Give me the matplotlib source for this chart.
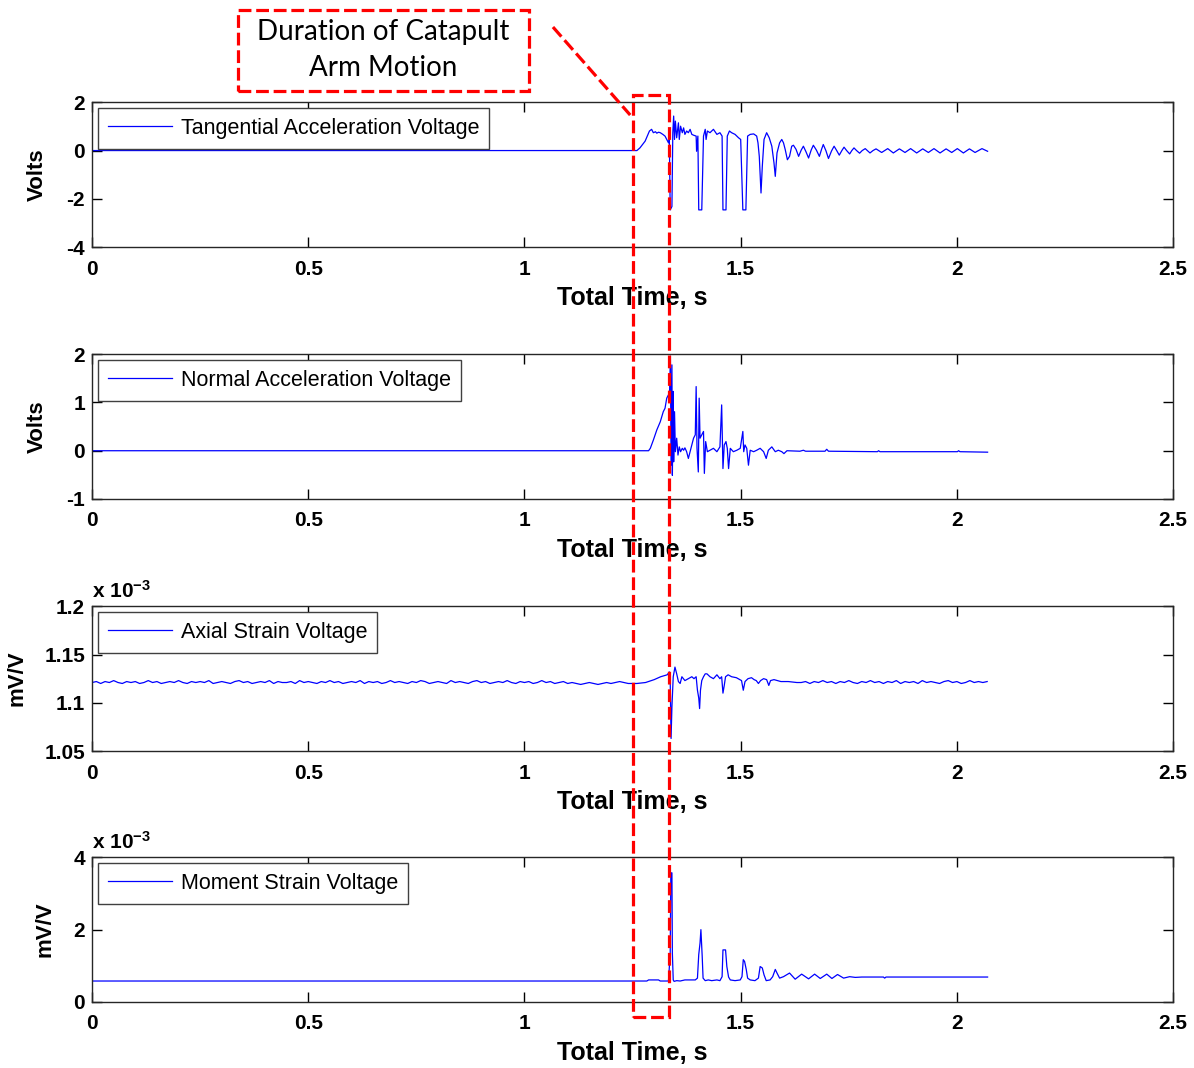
import matplotlib.pyplot as plt
import numpy as np
from matplotlib.patches import Rectangle
from matplotlib.lines import Line2D

plt.rcParams['font.family'] = ['Liberation Sans', 'DejaVu Sans']
plt.rcParams['mathtext.default'] = 'regular'

# ---- data (time in s) ----
# Tangential acceleration voltage, Volts
tangential = [
    (0.000, 0.00), (1.260, 0.00), (1.267, 0.11), (1.279, 0.39), (1.289, 0.81), (1.294, 0.88),
    (1.298, 0.74), (1.303, 0.78), (1.306, 0.72), (1.310, 0.76), (1.314, 0.74), (1.320, 0.67),
    (1.325, 0.60), (1.329, 0.46), (1.333, 0.32), (1.335, 0.46), (1.337, -2.46), (1.341, -2.32),
    (1.343, 0.74), (1.345, 1.43), (1.347, 0.46), (1.349, 1.22), (1.352, 0.53), (1.356, 1.15),
    (1.358, 0.46), (1.361, 1.01), (1.365, 0.74), (1.368, 0.94), (1.371, 0.67), (1.375, 0.81),
    (1.379, 0.74), (1.383, 0.88), (1.387, 0.67), (1.392, 0.63), (1.397, 0.60), (1.398, -0.03),
    (1.401, 0.60), (1.403, -2.46), (1.410, -2.46), (1.414, 0.60), (1.418, 0.88), (1.420, 0.46),
    (1.423, 0.81), (1.429, 0.74), (1.437, 0.88), (1.445, 0.67), (1.452, 0.74), (1.457, 0.60),
    (1.459, -2.46), (1.466, -2.46), (1.469, 0.60), (1.474, 0.81), (1.479, 0.74), (1.487, 0.67),
    (1.495, 0.53), (1.500, 0.46), (1.505, -2.46), (1.512, -2.46), (1.516, 0.60), (1.522, 0.67),
    (1.530, 0.69), (1.537, 0.60), (1.540, 0.32), (1.543, -0.24), (1.547, -1.76), (1.550, -0.65),
    (1.554, 0.46), (1.560, 0.74), (1.566, 0.53), (1.572, 0.18), (1.577, -0.51), (1.580, -1.07),
    (1.584, -0.10), (1.590, 0.32), (1.595, 0.46), (1.599, 0.32), (1.603, 0.04), (1.608, -0.38),
    (1.613, -0.24), (1.618, 0.18), (1.622, 0.22), (1.628, 0.05), (1.634, -0.24), (1.640, 0.02),
    (1.645, 0.18), (1.651, -0.05), (1.657, -0.31), (1.663, 0.02), (1.668, 0.22), (1.675, 0.02),
    (1.682, -0.24), (1.687, 0.05), (1.691, 0.25), (1.697, 0.00), (1.703, -0.33), (1.710, -0.02),
    (1.716, 0.18), (1.722, 0.00), (1.728, -0.19), (1.734, 0.00), (1.739, 0.14), (1.745, 0.00),
    (1.752, -0.14), (1.757, 0.00), (1.762, 0.11), (1.768, 0.00), (1.775, -0.11), (1.781, 0.00),
    (1.788, 0.08), (1.793, 0.00), (1.799, -0.10), (1.806, 0.00),
    (1.813, 0.07), (1.826, -0.08), (1.840, 0.08), (1.853, -0.10), (1.867, 0.07), (1.880, -0.08),
    (1.893, 0.08), (1.907, -0.10), (1.921, 0.07), (1.934, -0.08), (1.947, 0.08), (1.961, -0.10),
    (1.975, 0.07), (1.988, -0.08), (2.001, 0.08), (2.015, -0.10), (2.029, 0.07), (2.042, -0.08),
    (2.058, 0.08), (2.071, -0.03),
]

# Normal acceleration voltage, Volts
normal = [
    (0.000, 0.00), (1.287, 0.00), (1.291, 0.05), (1.298, 0.22), (1.306, 0.43), (1.314, 0.60),
    (1.321, 0.81), (1.325, 0.88), (1.329, 1.09), (1.333, 1.16), (1.335, 1.02), (1.3375, 1.96),
    (1.339, -0.30), (1.341, 1.78), (1.342, -0.51), (1.344, 1.23), (1.345, -0.23), (1.347, 0.81),
    (1.349, -0.02), (1.352, 0.26), (1.355, -0.09), (1.358, 0.08), (1.361, -0.02), (1.365, 0.05),
    (1.368, 0.01), (1.371, 0.06), (1.375, -0.02), (1.379, -0.16), (1.383, -0.02), (1.387, 0.12),
    (1.391, 0.26), (1.395, 0.33), (1.397, 1.33), (1.399, 0.05), (1.402, -0.44), (1.404, 1.09),
    (1.406, 0.26), (1.410, 0.33), (1.414, 0.40), (1.416, -0.47), (1.419, 0.19), (1.423, -0.02),
    (1.429, 0.01), (1.437, 0.05), (1.445, -0.02), (1.452, 0.08), (1.456, 0.95), (1.459, -0.37),
    (1.462, 0.12), (1.466, 0.19), (1.469, 0.05), (1.472, -0.37), (1.476, 0.05), (1.483, -0.02),
    (1.491, 0.01), (1.499, 0.05), (1.505, 0.40), (1.507, -0.02), (1.510, 0.12), (1.514, 0.05),
    (1.518, -0.30), (1.522, 0.01), (1.530, -0.02), (1.537, 0.01), (1.545, 0.05), (1.553, -0.02),
    (1.559, -0.16), (1.564, 0.01), (1.572, 0.08), (1.580, -0.02), (1.587, 0.01), (1.595, -0.02),
    (1.600, -0.06), (1.607, 0.00), (1.637, -0.01), (1.645, 0.01), (1.650, -0.01), (1.695, -0.01),
    (1.699, 0.03), (1.703, -0.01), (1.816, -0.02), (1.819, 0.00), (1.822, -0.02), (2.001, -0.02),
    (2.004, 0.00), (2.007, -0.02), (2.071, -0.03),
]

# Axial strain voltage, mV/V (x 1e-3)
axial_pre = [  # every 0.01 s from 0 to 1.22
    1.121, 1.122, 1.120, 1.122, 1.121, 1.123, 1.121, 1.120, 1.122, 1.121,
    1.122, 1.120, 1.121, 1.123, 1.121, 1.122, 1.120, 1.121, 1.122, 1.121,
    1.123, 1.121, 1.120, 1.122, 1.121, 1.122, 1.121, 1.123, 1.120, 1.121,
    1.122, 1.121, 1.120, 1.122, 1.123, 1.121, 1.122, 1.120, 1.121, 1.122,
    1.121, 1.123, 1.120, 1.122, 1.121, 1.121, 1.122, 1.120, 1.123, 1.121,
    1.122, 1.121, 1.120, 1.122, 1.121, 1.123, 1.121, 1.122, 1.120, 1.121,
    1.122, 1.121, 1.123, 1.120, 1.122, 1.121, 1.122, 1.120, 1.121, 1.123,
    1.121, 1.122, 1.121, 1.120, 1.122, 1.121, 1.123, 1.122, 1.120, 1.121,
    1.122, 1.121, 1.120, 1.123, 1.121, 1.122, 1.121, 1.120, 1.122, 1.123,
    1.121, 1.122, 1.120, 1.121, 1.122, 1.121, 1.123, 1.121, 1.120, 1.122,
    1.121, 1.122, 1.120, 1.121, 1.123, 1.121, 1.122, 1.120, 1.121, 1.122,
    1.120, 1.121, 1.120, 1.119, 1.120, 1.121, 1.120, 1.119, 1.120, 1.121,
    1.120, 1.121, 1.122,
]
axial_event = [
    (1.240, 1.120), (1.260, 1.120), (1.280, 1.121), (1.300, 1.124), (1.315, 1.127), (1.330, 1.129),
    (1.335, 1.132), (1.337, 1.123), (1.339, 1.063), (1.341, 1.096), (1.344, 1.127), (1.348, 1.137),
    (1.352, 1.130), (1.356, 1.122), (1.360, 1.120), (1.364, 1.127), (1.371, 1.123), (1.379, 1.125),
    (1.387, 1.127), (1.392, 1.125), (1.397, 1.127), (1.400, 1.113), (1.403, 1.105), (1.405, 1.094),
    (1.407, 1.113), (1.410, 1.123), (1.414, 1.127), (1.418, 1.130), (1.422, 1.130), (1.429, 1.127),
    (1.437, 1.125), (1.445, 1.129), (1.452, 1.125), (1.456, 1.127), (1.459, 1.110), (1.462, 1.118),
    (1.465, 1.127), (1.471, 1.129), (1.479, 1.127), (1.490, 1.126), (1.498, 1.124), (1.502, 1.123),
    (1.506, 1.113), (1.510, 1.122), (1.517, 1.125), (1.525, 1.126), (1.531, 1.124), (1.536, 1.123),
    (1.541, 1.120), (1.546, 1.123), (1.553, 1.125), (1.560, 1.124), (1.565, 1.118), (1.569, 1.123),
    (1.577, 1.124), (1.593, 1.122), (1.610, 1.122), (1.630, 1.121),
]
axial_post = [  # every 0.01 s from 1.64 to 2.07
    1.121, 1.122, 1.120, 1.122, 1.121, 1.123, 1.121, 1.122, 1.120, 1.122,
    1.121, 1.123, 1.121, 1.120, 1.122, 1.121, 1.123, 1.121, 1.122, 1.120,
    1.122, 1.121, 1.123, 1.120, 1.122, 1.121, 1.122, 1.120, 1.123, 1.121,
    1.122, 1.121, 1.120, 1.122, 1.123, 1.121, 1.122, 1.120, 1.121, 1.123,
    1.121, 1.122, 1.121, 1.122,
]

# Moment strain voltage, mV/V (x 1e-3)
moment = [
    (0.000, 0.58), (1.283, 0.58), (1.287, 0.61), (1.310, 0.61), (1.314, 0.58), (1.333, 0.58),
    (1.337, 1.35), (1.3385, 3.57), (1.341, 3.57), (1.342, 1.35), (1.344, 0.61), (1.346, 0.57),
    (1.352, 0.59), (1.360, 0.58), (1.371, 0.61), (1.395, 0.61), (1.400, 0.66), (1.403, 1.31),
    (1.406, 1.63), (1.408, 2.00), (1.411, 1.26), (1.413, 0.66), (1.418, 0.59), (1.425, 0.61),
    (1.433, 0.59), (1.445, 0.61), (1.452, 0.59), (1.457, 0.70), (1.459, 1.44), (1.465, 1.44),
    (1.468, 0.98), (1.472, 0.69), (1.476, 0.61), (1.487, 0.59), (1.499, 0.61), (1.503, 0.70),
    (1.506, 1.17), (1.509, 1.12), (1.513, 0.89), (1.516, 0.66), (1.522, 0.61), (1.533, 0.59),
    (1.541, 0.66), (1.545, 0.98), (1.550, 0.94), (1.554, 0.75), (1.559, 0.59), (1.568, 0.61),
    (1.574, 0.70), (1.580, 0.90), (1.584, 0.80), (1.590, 0.66), (1.599, 0.70), (1.606, 0.75),
    (1.613, 0.80), (1.626, 0.63), (1.641, 0.77), (1.657, 0.64), (1.671, 0.77), (1.684, 0.65),
    (1.699, 0.77), (1.711, 0.65), (1.724, 0.76), (1.738, 0.66), (1.752, 0.70), (1.765, 0.68),
    (1.780, 0.69), (1.830, 0.69), (1.833, 0.66), (1.836, 0.69), (2.000, 0.69), (2.071, 0.69),
]

motion_start = 1.25   # catapult arm motion window, s
motion_end = 1.335

xticks = [0, 0.5, 1, 1.5, 2, 2.5]
xticklabels = ['0', '0.5', '1', '1.5', '2', '2.5']

# ---- assemble series ----
t_tan, v_tan = np.array(tangential).T
t_nor, v_nor = np.array(normal).T
t_ax = np.concatenate([np.round(np.arange(len(axial_pre)) * 0.01, 3),
                       np.array(axial_event)[:, 0],
                       np.round(1.64 + np.arange(len(axial_post)) * 0.01, 3)])
v_ax = np.concatenate([axial_pre, np.array(axial_event)[:, 1], axial_post])
t_mom, v_mom = np.array(moment).T

panels = [
    (t_tan, v_tan, 'Tangential Acceleration Voltage', 'Volts', (-4, 2), [-4, -2, 0, 2],
     ['-4', '-2', '0', '2'], False, -0.041),
    (t_nor, v_nor, 'Normal Acceleration Voltage', 'Volts', (-1, 2), [-1, 0, 1, 2],
     ['-1', '0', '1', '2'], False, -0.041),
    (t_ax, v_ax, 'Axial Strain Voltage', 'mV/V', (1.05, 1.2), [1.05, 1.1, 1.15, 1.2],
     ['1.05', '1.1', '1.15', '1.2'], True, -0.060),
    (t_mom, v_mom, 'Moment Strain Voltage', 'mV/V', (0, 4), [0, 2, 4],
     ['0', '2', '4'], True, -0.034),
]

fig = plt.figure(figsize=(11.94, 10.68), dpi=100)
bottoms = [0.7687, 0.5328, 0.2968, 0.0618]
axes = []
for (t, v, name, ylab, ylim, yt, ytl, scaled, ylx), b in zip(panels, bottoms):
    ax = fig.add_axes([0.0771, b, 0.9054, 0.1355])
    ax.plot(t, v, color='#0000ff', lw=0.9, label=name)
    ax.set_xlim(0, 2.5)
    ax.set_ylim(*ylim)
    ax.set_xticks(xticks)
    ax.set_xticklabels(xticklabels)
    ax.set_yticks(yt)
    ax.set_yticklabels(ytl)
    ax.tick_params(direction='in', top=True, right=True, length=7, width=1,
                   labelsize=15, colors='black')
    ax.tick_params(axis='x', pad=9)
    ax.tick_params(axis='y', pad=5)
    for lbl in ax.get_xticklabels() + ax.get_yticklabels():
        lbl.set_fontweight('bold')
    for s in ax.spines.values():
        s.set_color('0.15')
        s.set_linewidth(1)
    ax.set_xlabel('Total Time, s', fontsize=18, fontweight='bold')
    ax.xaxis.set_label_coords(0.5, -0.27)
    ax.set_ylabel(ylab, fontsize=16, fontweight='bold')
    ax.yaxis.set_label_coords(ylx, 0.5)
    leg = ax.legend(loc='upper left', fontsize=15.5, fancybox=False, edgecolor='0.25',
                    framealpha=1, handlelength=3.0, handletextpad=0.4,
                    borderaxespad=0.28, borderpad=0.45)
    leg.get_frame().set_linewidth(1.0)
    if scaled:
        ax.text(0, 1.03, r'x 10$^{-3}$', transform=ax.transAxes, fontsize=15,
                fontweight='bold', va='bottom', ha='left')
    axes.append(ax)

# ---- red dashed annotation ----
to_fig = fig.transFigure.inverted()
x0 = to_fig.transform(axes[0].transData.transform((motion_start, 0)))[0]
x1 = to_fig.transform(axes[0].transData.transform((motion_end, 0)))[0]
fig.add_artist(Rectangle((x0, 0.0478), x1 - x0, 0.8633, transform=fig.transFigure,
                         fill=False, ec='#ff0000', lw=2.3, ls=(0, (4, 1.5)), zorder=10))
fig.add_artist(Rectangle((0.1993, 0.9148), 0.2437, 0.0758, transform=fig.transFigure,
                         fill=False, ec='#ff0000', lw=2.3, ls=(0, (4, 1.5)), zorder=10))
fig.text(0.3208, 0.9530, 'Duration of Catapult\nArm Motion', ha='center', va='center',
         fontsize=20, family='Lato', linespacing=1.45)
fig.add_artist(Line2D([0.4631, x0 - 0.002], [0.9747, 0.8923], transform=fig.transFigure,
                      color='#ff0000', lw=2.3, ls=(0, (4, 1.5)), zorder=10))

fig.savefig('out.png', dpi=100)
